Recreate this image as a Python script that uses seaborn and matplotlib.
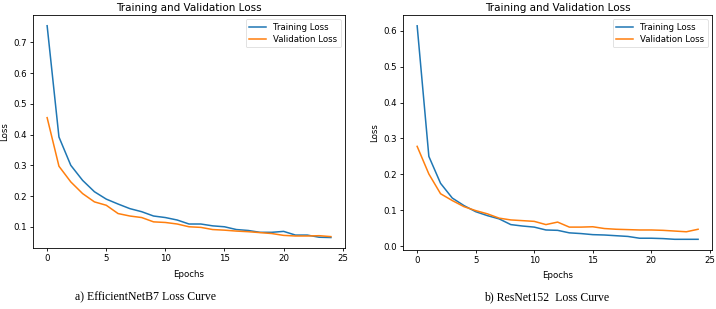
import matplotlib
matplotlib.use("Agg")
import matplotlib.pyplot as plt
import seaborn as sns
import pandas as pd
import numpy as np

epochs = list(range(25))

eff_train = [0.754, 0.392, 0.300, 0.251, 0.214, 0.190, 0.174, 0.159, 0.149, 0.135,
             0.130, 0.122, 0.109, 0.109, 0.103, 0.100, 0.091, 0.088, 0.082, 0.082,
             0.085, 0.073, 0.073, 0.066, 0.065]
eff_val = [0.455, 0.297, 0.246, 0.208, 0.181, 0.170, 0.143, 0.135, 0.130, 0.116,
           0.114, 0.109, 0.100, 0.098, 0.091, 0.089, 0.086, 0.084, 0.081, 0.078,
           0.072, 0.070, 0.070, 0.071, 0.068]

res_train = [0.614, 0.250, 0.175, 0.134, 0.113, 0.096, 0.085, 0.076, 0.060, 0.056,
             0.053, 0.045, 0.044, 0.037, 0.035, 0.032, 0.031, 0.029, 0.027, 0.022,
             0.022, 0.021, 0.019, 0.019, 0.019]
res_val = [0.278, 0.201, 0.146, 0.127, 0.110, 0.099, 0.090, 0.078, 0.073, 0.071,
           0.069, 0.060, 0.067, 0.053, 0.053, 0.054, 0.049, 0.047, 0.046, 0.045,
           0.045, 0.044, 0.042, 0.040, 0.047]

series_names = ["Training Loss", "Validation Loss"]
captions = ["a) EfficientNetB7 Loss Curve", "b) ResNet152  Loss Curve"]
title = "Training and Validation Loss"

plt.rcParams["font.family"] = ["DejaVu Sans"]
fig = plt.figure(figsize=(7.16, 3.09), dpi=100)
ax1 = fig.add_axes([0.046, 0.197, 0.436, 0.754])
ax2 = fig.add_axes([0.563, 0.191, 0.4316, 0.760])

palette = {"Training Loss": "#1f77b4", "Validation Loss": "#ff7f0e"}
fs_tick = 6.2
for ax, tr, va in [(ax1, eff_train, eff_val), (ax2, res_train, res_val)]:
    df = pd.DataFrame({
        "Epochs": epochs * 2,
        "Loss": tr + va,
        "Series": [series_names[0]] * len(epochs) + [series_names[1]] * len(epochs),
    })
    sns.lineplot(data=df, x="Epochs", y="Loss", hue="Series", palette=palette,
                 ax=ax, linewidth=1.1)
    ax.set_title(title, fontsize=7.5, pad=3)
    ax.set_xlabel("Epochs", fontsize=fs_tick, labelpad=4.5)
    ax.set_ylabel("Loss", fontsize=fs_tick, labelpad=3)
    ax.set_xticks([0, 5, 10, 15, 20, 25])
    ax.tick_params(labelsize=fs_tick, length=2.5, width=0.6, pad=2)
    for s in ax.spines.values():
        s.set_linewidth(0.6)
    leg = ax.legend(loc="upper right", fontsize=fs_tick, frameon=True,
                    handlelength=2.0, borderpad=0.4, labelspacing=0.35)
    leg.get_frame().set_linewidth(0.5)
    for line in leg.get_lines():
        line.set_linewidth(1.1)

ax2.set_yticks([0.0, 0.1, 0.2, 0.3, 0.4, 0.5, 0.6])

fig.text(0.203, 0.039, captions[0], ha="center", va="center",
         fontsize=8.5, family="Liberation Serif")
fig.text(0.763, 0.039, captions[1], ha="center", va="center",
         fontsize=8.5, family="Liberation Serif")

fig.savefig("out.png", dpi=100)
